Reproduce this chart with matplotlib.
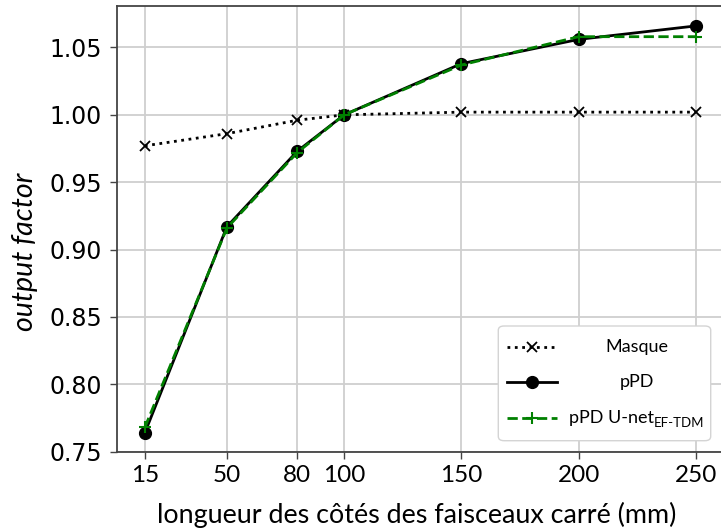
import matplotlib.pyplot as plt
from matplotlib.lines import Line2D
from matplotlib.patches import FancyBboxPatch

# field sizes (mm) and output factors
sizes = [15, 50, 80, 100, 150, 200, 250]
masque = [0.977, 0.986, 0.996, 1.000, 1.002, 1.002, 1.002]
ppd = [0.764, 0.917, 0.973, 1.000, 1.038, 1.056, 1.066]
ppd_unet = [0.768, 0.916, 0.972, 1.000, 1.037, 1.058, 1.058]
y_ticks = [0.75, 0.80, 0.85, 0.90, 0.95, 1.00, 1.05]

W, H = 721, 531


def fx(x):
    return x / W


def fy(y):
    return 1 - y / H


fig = plt.figure(figsize=(W / 100, H / 100), dpi=100)
ax = fig.add_axes([fx(117.3), fy(452.3), (723.5 - 117.3) / W, (452.3 - 5.7) / H])

ax.plot(sizes, masque, color='black', linestyle=':', linewidth=2, marker='x',
        markersize=7.5, markeredgewidth=1.3, zorder=3)
ax.plot(sizes, ppd, color='black', linestyle='-', linewidth=2, marker='o',
        markersize=8.5, zorder=4)
ax.plot(sizes, ppd_unet, color='green', linestyle='--', linewidth=2, marker='+',
        markersize=9, markeredgewidth=1.5, zorder=5)

ax.set_xlim(3.25, 261.75)
ax.set_ylim(0.7495, 1.081)
ax.set_xticks(sizes)
ax.set_xticklabels([str(s) for s in sizes], fontfamily='Lato', fontsize=17.5)
ax.set_yticks(y_ticks)
ax.set_yticklabels([f'{v:.2f}' for v in y_ticks], fontsize=17)
ax.tick_params(axis='both', length=5, width=1, color='#444444')
ax.tick_params(axis='y', pad=6)
ax.tick_params(axis='x', pad=4)
ax.grid(True, color='#cfcfcf', linewidth=1.3)
ax.set_axisbelow(True)
for sp in ax.spines.values():
    sp.set_color('#444444')
    sp.set_linewidth(1.3)

fig.text(fx(416.7), fy(522.7), 'longueur des côtés des faisceaux carré (mm)',
         fontfamily='Lato', fontsize=19.4, ha='center', va='baseline')
fig.text(fx(25), fy(252), 'output factor', fontfamily='Lato', style='italic',
         fontsize=20.5, rotation=90, ha='center', va='center')

# legend drawn by hand: handle on the left, centred labels
box = FancyBboxPatch((fx(498.3), fy(440.7)), (710.7 - 498.3) / W, (440.7 - 326) / H,
                     boxstyle='round,pad=0,rounding_size=0.008',
                     transform=fig.transFigure, facecolor='white',
                     edgecolor='#d4d4d4', linewidth=1, zorder=10)
fig.add_artist(box)

entries = [
    (346.7, dict(color='black', linestyle=':', linewidth=2, marker='x',
                 markersize=7.5, markeredgewidth=1.3), 'Masque', ''),
    (381.7, dict(color='black', linestyle='-', linewidth=2, marker='o',
                 markersize=8.5), 'pPD', ''),
    (418.3, dict(color='green', linestyle='--', linewidth=2, marker='+',
                 markersize=9, markeredgewidth=1.5), 'pPD U-net', 'EF-TDM'),
]
renderer = fig.canvas.get_renderer()
for y, style, label, sub in entries:
    handle = Line2D([fx(506.7), fx(531.7), fx(556.7)], [fy(y)] * 3,
                    transform=fig.transFigure, markevery=[1], zorder=11, **style)
    fig.add_artist(handle)
    main = fig.text(fx(636.5), fy(y), label, fontfamily='Lato', fontsize=13,
                    ha='center', va='center', zorder=12)
    if sub:
        small = fig.text(0, fy(y + 5), sub, fontfamily='Lato', fontsize=9.5,
                         ha='left', va='center', zorder=12)
        w_main = main.get_window_extent(renderer).width
        w_sub = small.get_window_extent(renderer).width
        left = 636.5 - (w_main + w_sub) / 2
        main.set_ha('left')
        main.set_x(fx(left))
        small.set_x(fx(left + w_main))

fig.savefig('out.png', dpi=100)
